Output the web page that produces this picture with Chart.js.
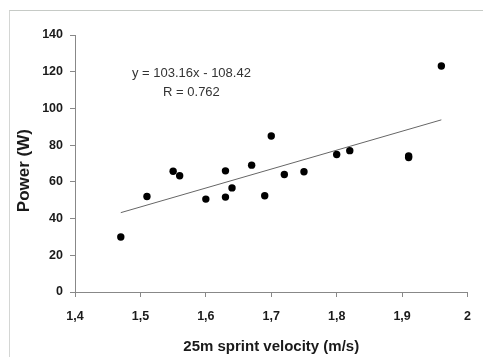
<!DOCTYPE html>
<html>
<head>
<meta charset="utf-8">
<script src="https://cdn.jsdelivr.net/npm/chart.js@4.4.1/dist/chart.umd.min.js"></script>
<style>
  html, body { margin: 0; padding: 0; background: #fff; }
  #wrap { position: relative; width: 483px; height: 357px; overflow: hidden; }
  #frame { position: absolute; left: 9px; top: 10px; right: -2px; bottom: -2px;
           border-top: 1px solid #c6cac6; border-left: 1px solid #d4d6d4; }
  canvas { position: absolute; left: 0; top: 0; }
</style>
</head>
<body>
<div id="wrap">
  <div id="frame"></div>
  <canvas id="c" width="483" height="357"></canvas>
</div>
<script>
// Data
const velocity = [1.47, 1.51, 1.55, 1.56, 1.60, 1.63, 1.63, 1.64, 1.67, 1.69, 1.70, 1.72, 1.75, 1.80, 1.82, 1.91, 1.91, 1.96];
const power    = [30.0, 52.0, 65.8, 63.3, 50.6, 66.0, 51.7, 56.7, 69.1, 52.4, 85.0, 64.0, 65.5, 74.9, 77.0, 73.3, 74.1, 123.1];
const slope = 103.16;
const intercept = -108.42;
const trendX = [1.47, 1.96];
const equationLines = ['y = 103.16x - 108.42', 'R = 0.762'];
const equationAnchor = [1.578, 118.8, 108.9]; // x value, y value of line 1, y value of line 2
const xTicks = [1.4, 1.5, 1.6, 1.7, 1.8, 1.9, 2.0];
const yTicks = [0, 20, 40, 60, 80, 100, 120, 140];

const FONT = "'Liberation Sans', Arial, sans-serif";
const pts = velocity.map((v, i) => ({ x: v, y: power[i] }));
const trend = trendX.map(x => ({ x: x, y: slope * x + intercept }));

const equationPlugin = {
  id: 'equation',
  afterDatasetsDraw(chart) {
    const { ctx, scales } = chart;
    const x = scales.x.getPixelForValue(equationAnchor[0]);
    ctx.save();
    ctx.font = '13px ' + FONT;
    ctx.fillStyle = '#333';
    ctx.textAlign = 'center';
    ctx.textBaseline = 'middle';
    ctx.fillText(equationLines[0], x, scales.y.getPixelForValue(equationAnchor[1]));
    ctx.fillText(equationLines[1], x, scales.y.getPixelForValue(equationAnchor[2]));
    ctx.restore();
  }
};

new Chart(document.getElementById('c'), {
  type: 'scatter',
  data: {
    datasets: [
      { type: 'scatter', data: pts, backgroundColor: '#000', borderColor: '#000',
        pointRadius: 3.7, pointHoverRadius: 3.7, borderWidth: 0 },
      { type: 'line', data: trend, borderColor: '#666', borderWidth: 1,
        pointRadius: 0, fill: false, tension: 0 }
    ]
  },
  options: {
    responsive: false,
    animation: false,
    events: [],
    layout: { padding: { top: 35, right: 14, left: 0, bottom: 0 } },
    plugins: { legend: { display: false }, tooltip: { enabled: false } },
    scales: {
      x: {
        type: 'linear', min: 1.4, max: 2.0,
        afterBuildTicks: s => { s.ticks = xTicks.map(v => ({ value: v })); },
        afterFit: s => { s.height = 65; },
        grid: { display: true, drawOnChartArea: false, drawTicks: true, tickLength: 5, tickColor: '#888' },
        border: { display: true, color: '#888', width: 1 },
        ticks: { padding: 12, color: '#1a1a1a', font: { family: FONT, size: 12.5, weight: 'bold' },
                 maxRotation: 0, autoSkip: false,
                 callback: v => (Math.round(v * 10) / 10).toString().replace('.', ',') },
        title: { display: true, text: '25m sprint velocity (m/s)', color: '#1a1a1a',
                 font: { family: FONT, size: 15, weight: 'bold' }, padding: { top: 0, bottom: 1 } }
      },
      y: {
        type: 'linear', min: 0, max: 140,
        afterBuildTicks: s => { s.ticks = yTicks.map(v => ({ value: v })); },
        afterFit: s => { s.width = 75; },
        grid: { display: true, drawOnChartArea: false, drawTicks: true, tickLength: 5, tickColor: '#888' },
        border: { display: true, color: '#888', width: 1 },
        ticks: { padding: 7, color: '#1a1a1a', font: { family: FONT, size: 12.5, weight: 'bold' } },
        title: { display: true, text: 'Power (W)   ', color: '#1a1a1a',
                 font: { family: FONT, size: 17, weight: 'bold' }, padding: { top: 14, bottom: 0 } }
      }
    }
  },
  plugins: [equationPlugin]
});
</script>
</body>
</html>
